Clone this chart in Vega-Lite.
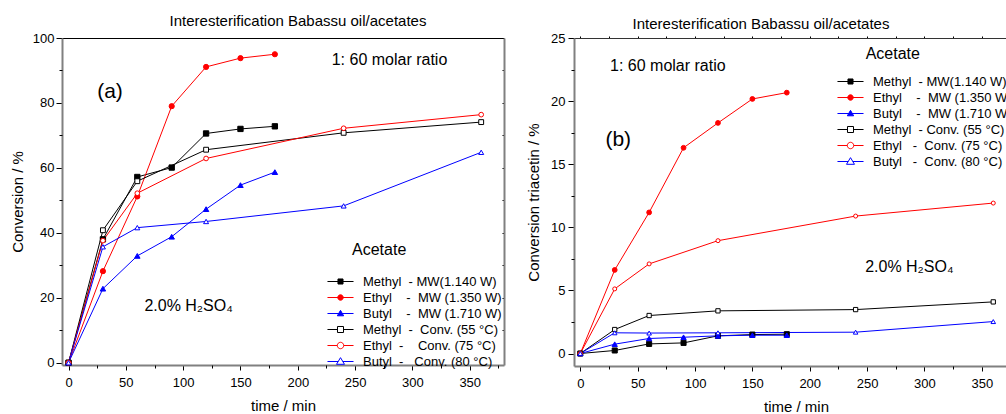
{
  "$schema": "https://vega.github.io/schema/vega-lite/v6.json",
  "autosize": {"type": "none"},
  "padding": {"left": 62, "top": 38, "right": 944, "bottom": 376},
  "background": "white",
  "config": {"view": {"stroke": null}, "font": "Liberation Sans", "text": {"font": "Liberation Sans"}},
  "datasets": {
    "pa": [
      {"t": 0, "v": 0, "s": "Methyl MW"}, {"t": 30, "v": 38, "s": "Methyl MW"}, {"t": 60, "v": 57.2, "s": "Methyl MW"}, {"t": 90, "v": 60.1, "s": "Methyl MW"}, {"t": 120, "v": 70.6, "s": "Methyl MW"}, {"t": 150, "v": 72.0, "s": "Methyl MW"}, {"t": 180, "v": 72.8, "s": "Methyl MW"},
      {"t": 0, "v": 0, "s": "Ethyl MW"}, {"t": 30, "v": 28.2, "s": "Ethyl MW"}, {"t": 60, "v": 51.2, "s": "Ethyl MW"}, {"t": 90, "v": 79.0, "s": "Ethyl MW"}, {"t": 120, "v": 91.1, "s": "Ethyl MW"}, {"t": 150, "v": 93.8, "s": "Ethyl MW"}, {"t": 180, "v": 95.0, "s": "Ethyl MW"},
      {"t": 0, "v": 0, "s": "Butyl MW"}, {"t": 30, "v": 22.8, "s": "Butyl MW"}, {"t": 60, "v": 32.9, "s": "Butyl MW"}, {"t": 90, "v": 38.8, "s": "Butyl MW"}, {"t": 120, "v": 47.3, "s": "Butyl MW"}, {"t": 150, "v": 54.7, "s": "Butyl MW"}, {"t": 180, "v": 58.7, "s": "Butyl MW"},
      {"t": 0, "v": 0, "s": "Methyl Conv"}, {"t": 30, "v": 40.8, "s": "Methyl Conv"}, {"t": 60, "v": 55.9, "s": "Methyl Conv"}, {"t": 120, "v": 65.6, "s": "Methyl Conv"}, {"t": 240, "v": 70.8, "s": "Methyl Conv"}, {"t": 360, "v": 74.1, "s": "Methyl Conv"},
      {"t": 0, "v": 0, "s": "Ethyl Conv"}, {"t": 30, "v": 37.6, "s": "Ethyl Conv"}, {"t": 60, "v": 52.2, "s": "Ethyl Conv"}, {"t": 120, "v": 62.9, "s": "Ethyl Conv"}, {"t": 240, "v": 72.2, "s": "Ethyl Conv"}, {"t": 360, "v": 76.4, "s": "Ethyl Conv"},
      {"t": 0, "v": 0, "s": "Butyl Conv"}, {"t": 30, "v": 35.7, "s": "Butyl Conv"}, {"t": 60, "v": 41.6, "s": "Butyl Conv"}, {"t": 120, "v": 43.5, "s": "Butyl Conv"}, {"t": 240, "v": 48.3, "s": "Butyl Conv"}, {"t": 360, "v": 64.8, "s": "Butyl Conv"}
    ],
    "pb": [
      {"t": 0, "v": 0, "s": "Methyl MW"}, {"t": 30, "v": 0.24, "s": "Methyl MW"}, {"t": 60, "v": 0.76, "s": "Methyl MW"}, {"t": 90, "v": 0.84, "s": "Methyl MW"}, {"t": 120, "v": 1.40, "s": "Methyl MW"}, {"t": 150, "v": 1.50, "s": "Methyl MW"}, {"t": 180, "v": 1.53, "s": "Methyl MW"},
      {"t": 0, "v": 0, "s": "Ethyl MW"}, {"t": 30, "v": 6.62, "s": "Ethyl MW"}, {"t": 60, "v": 11.18, "s": "Ethyl MW"}, {"t": 90, "v": 16.3, "s": "Ethyl MW"}, {"t": 120, "v": 18.27, "s": "Ethyl MW"}, {"t": 150, "v": 20.17, "s": "Ethyl MW"}, {"t": 180, "v": 20.67, "s": "Ethyl MW"},
      {"t": 0, "v": 0, "s": "Butyl MW"}, {"t": 30, "v": 0.74, "s": "Butyl MW"}, {"t": 60, "v": 1.19, "s": "Butyl MW"}, {"t": 90, "v": 1.29, "s": "Butyl MW"}, {"t": 120, "v": 1.40, "s": "Butyl MW"}, {"t": 150, "v": 1.45, "s": "Butyl MW"}, {"t": 180, "v": 1.45, "s": "Butyl MW"},
      {"t": 0, "v": 0, "s": "Methyl Conv"}, {"t": 30, "v": 1.90, "s": "Methyl Conv"}, {"t": 60, "v": 3.01, "s": "Methyl Conv"}, {"t": 120, "v": 3.38, "s": "Methyl Conv"}, {"t": 240, "v": 3.48, "s": "Methyl Conv"}, {"t": 360, "v": 4.09, "s": "Methyl Conv"},
      {"t": 0, "v": 0, "s": "Ethyl Conv"}, {"t": 30, "v": 5.12, "s": "Ethyl Conv"}, {"t": 60, "v": 7.10, "s": "Ethyl Conv"}, {"t": 120, "v": 8.94, "s": "Ethyl Conv"}, {"t": 240, "v": 10.89, "s": "Ethyl Conv"}, {"t": 360, "v": 11.92, "s": "Ethyl Conv"},
      {"t": 0, "v": 0, "s": "Butyl Conv"}, {"t": 30, "v": 1.64, "s": "Butyl Conv"}, {"t": 60, "v": 1.62, "s": "Butyl Conv"}, {"t": 120, "v": 1.64, "s": "Butyl Conv"}, {"t": 240, "v": 1.69, "s": "Butyl Conv"}, {"t": 360, "v": 2.53, "s": "Butyl Conv"}
    ],
    "na": [
      {"t": 36.2, "v": 83.5, "label": "(a)", "kind": "big"},
      {"t": 280, "v": 93.3, "label": "1: 60 molar ratio", "kind": "note"},
      {"t": 271, "v": 34.8, "label": "Acetate", "kind": "note"},
      {"t": 104.7, "v": 17.6, "label": "2.0% H₂SO₄", "kind": "note"}
    ],
    "nb": [
      {"t": 33.1, "v": 16.9, "label": "(b)", "kind": "big"},
      {"t": 76.3, "v": 22.8, "label": "1: 60 molar ratio", "kind": "note"},
      {"t": 272.4, "v": 23.7, "label": "Acetate", "kind": "note"},
      {"t": 286.8, "v": 6.83, "label": "2.0% H₂SO₄", "kind": "note"}
    ]
  },
  "spacing": 70,
  "bounds": "flush",
  "resolve": {"scale": {"x": "independent", "y": "independent", "stroke": "independent", "fill": "independent", "shape": "independent", "size": "independent"}, "legend": {"stroke": "independent"}},
  "hconcat": [
    {
      "width": 442,
      "height": 327,
      "title": {"text": "Interesterification Babassu oil/acetates", "fontSize": 15, "font": "Liberation Sans", "fontWeight": "normal", "color": "black", "dx": 15, "offset": 3},
      "resolve": {"axis": {"x": "independent", "y": "independent"}},
      "layer": [
        {
          "data": {"name": "pa"},
          "mark": {"type": "line", "strokeWidth": 1},
          "encoding": {
            "x": {"field": "t", "type": "quantitative", "scale": {"domain": [-5.7, 379.9], "nice": false, "zero": false},
              "axis": {"orient": "bottom", "values": [0, 50, 100, 150, 200, 250, 300, 350], "title": "time / min", "titleFontSize": 15, "titleFont": "Liberation Sans", "titleFontWeight": "normal", "titleColor": "black", "titlePadding": 9, "labelFontSize": 13, "labelFont": "Liberation Sans", "labelColor": "black", "labelPadding": 6, "labelFlush": false, "tickSize": 5, "tickColor": "black", "domainColor": "#808080", "domainWidth": 2, "grid": false}},
            "y": {"field": "v", "type": "quantitative", "scale": {"domain": [-0.7, 100], "nice": false, "zero": false},
              "axis": {"orient": "left", "values": [0, 20, 40, 60, 80, 100], "title": "Conversion / %", "titleFontSize": 15, "titleFont": "Liberation Sans", "titleFontWeight": "normal", "titleColor": "black", "titlePadding": 7, "labelFontSize": 13, "labelFont": "Liberation Sans", "labelColor": "black", "labelPadding": 2, "labelFlush": false, "tickSize": 6, "tickColor": "black", "domainColor": "#808080", "domainWidth": 2, "grid": false}},
            "stroke": {"field": "s", "type": "nominal",
              "scale": {"domain": ["Methyl MW", "Ethyl MW", "Butyl MW", "Methyl Conv", "Ethyl Conv", "Butyl Conv"], "range": ["#000000", "#ff0000", "#0000ff", "#000000", "#ff0000", "#0000ff"]},
              "legend": {"title": null, "orient": "none", "legendX": 271, "legendY": 236, "padding": 0, "symbolSize": 196, "labelFontSize": 13, "labelFont": "Liberation Sans", "labelColor": "black", "labelOffset": 15, "rowPadding": 1, "labelLimit": 300,
                "labelExpr": "datum.value == 'Methyl MW' ? 'Methyl\u00a0 - MW(1.140 W)' : datum.value == 'Ethyl MW' ? 'Ethyl\u00a0\u00a0\u00a0 -\u00a0 MW (1.350 W)' : datum.value == 'Butyl MW' ? 'Butyl\u00a0\u00a0\u00a0 -\u00a0 MW (1.710 W)' : datum.value == 'Methyl Conv' ? 'Methyl\u00a0 -\u00a0 Conv. (55 °C)' : datum.value == 'Ethyl Conv' ? 'Ethyl\u00a0 -\u00a0\u00a0\u00a0 Conv. (75 °C)' : 'Butyl\u00a0 -\u00a0\u00a0 Conv. (80 °C)'",
                "encode": {"symbols": {"update": {
                  "shape": {"signal": "datum.value == 'Methyl MW' ? 'M-1.86,0H1.86M-0.36,-0.36H0.36V0.36H-0.36Z' : datum.value == 'Ethyl MW' ? 'M-1.86,0H1.86M-0.39,0A0.39,0.39 0 1,0 0.39,0A0.39,0.39 0 1,0 -0.39,0Z' : datum.value == 'Butyl MW' ? 'M-1.86,0H1.86M0,-0.45L0.45,0.33L-0.45,0.33Z' : datum.value == 'Methyl Conv' ? 'M-1.86,0H-0.43M0.43,0H1.86M-0.43,-0.43H0.43V0.43H-0.43Z' : datum.value == 'Ethyl Conv' ? 'M-1.86,0H-0.46M0.46,0H1.86M-0.46,0A0.46,0.46 0 1,0 0.46,0A0.46,0.46 0 1,0 -0.46,0Z' : 'M-1.86,0H-0.33M0.33,0H1.86M0,-0.55L0.57,0.4L-0.57,0.4Z'"},
                  "fill": {"signal": "test(/Conv/, datum.value) ? '#ffffff' : test(/Methyl/, datum.value) ? '#000000' : test(/Ethyl/, datum.value) ? '#ff0000' : '#0000ff'"},
                  "strokeWidth": {"value": 1},
                  "opacity": {"value": 1}
                }}}}}
          }
        },
        {
          "data": {"name": "pa"},
          "mark": {"type": "point", "strokeWidth": 1, "opacity": 1},
          "encoding": {
            "x": {"field": "t", "type": "quantitative",
              "axis": {"orient": "bottom", "values": [25, 75, 125, 175, 225, 275, 325, 375], "title": null, "labels": false, "domain": false, "tickSize": 3, "tickColor": "black", "grid": false}},
            "y": {"field": "v", "type": "quantitative",
              "axis": {"orient": "left", "values": [10, 30, 50, 70, 90], "title": null, "labels": false, "domain": false, "tickSize": 3, "tickColor": "black", "grid": false}},
            "stroke": {"field": "s", "type": "nominal"},
            "fill": {"field": "s", "type": "nominal", "legend": null,
              "scale": {"domain": ["Butyl Conv", "Ethyl Conv", "Methyl Conv", "Butyl MW", "Ethyl MW", "Methyl MW"], "range": ["#ffffff", "#ffffff", "#ffffff", "#0000ff", "#ff0000", "#000000"]}},
            "shape": {"field": "s", "type": "nominal", "legend": null,
              "scale": {"domain": ["Ethyl MW", "Methyl MW", "Butyl MW", "Ethyl Conv", "Methyl Conv", "Butyl Conv"], "range": ["circle", "square", "triangle-up", "circle", "square", "triangle-up"]}},
            "size": {"field": "s", "type": "nominal", "legend": null,
              "scale": {"domain": ["Butyl MW", "Methyl MW", "Ethyl MW", "Butyl Conv", "Methyl Conv", "Ethyl Conv"], "range": [30, 22, 26, 60, 36, 50]}}
          }
        },
        {
          "data": {"name": "na"},
          "transform": [{"filter": "datum.kind == 'note'"}],
          "mark": {"type": "text", "align": "center", "baseline": "middle", "font": "Liberation Sans", "fontSize": 16, "color": "black"},
          "encoding": {
            "x": {"field": "t", "type": "quantitative",
              "axis": {"orient": "top", "title": null, "labels": false, "ticks": false, "domainColor": "black", "domainWidth": 1, "grid": false}},
            "y": {"field": "v", "type": "quantitative",
              "axis": {"orient": "right", "values": [10, 20, 30, 40, 50, 60, 70, 80, 90], "title": null, "labels": false, "tickSize": -2, "tickColor": "black", "domainColor": "#808080", "domainWidth": 2, "grid": false}},
            "text": {"field": "label", "type": "nominal"}
          }
        },
        {
          "data": {"name": "na"},
          "transform": [{"filter": "datum.kind == 'big'"}],
          "mark": {"type": "text", "align": "center", "baseline": "middle", "font": "Liberation Sans", "fontSize": 21, "color": "black"},
          "encoding": {
            "x": {"field": "t", "type": "quantitative", "axis": null},
            "y": {"field": "v", "type": "quantitative", "axis": null},
            "text": {"field": "label", "type": "nominal"}
          }
        }
      ]
    },
    {
      "width": 432,
      "height": 328,
      "title": {"text": "Interesterification Babassu oil/acetates", "fontSize": 15, "font": "Liberation Sans", "fontWeight": "normal", "color": "black", "dx": -29, "offset": 0},
      "resolve": {"axis": {"x": "independent", "y": "independent"}},
      "layer": [
        {
          "data": {"name": "pb"},
          "mark": {"type": "line", "strokeWidth": 1},
          "encoding": {
            "x": {"field": "t", "type": "quantitative", "scale": {"domain": [-5.5, 371.1], "nice": false, "zero": false},
              "axis": {"orient": "bottom", "values": [0, 50, 100, 150, 200, 250, 300, 350], "title": "time / min", "titleX": 222, "titleFontSize": 15, "titleFont": "Liberation Sans", "titleFontWeight": "normal", "titleColor": "black", "titlePadding": 9, "labelFontSize": 13, "labelFont": "Liberation Sans", "labelColor": "black", "labelPadding": 6, "labelFlush": false, "tickSize": 5, "tickColor": "black", "domainColor": "#808080", "domainWidth": 2, "grid": false}},
            "y": {"field": "v", "type": "quantitative", "scale": {"domain": [-0.99, 25], "nice": false, "zero": false},
              "axis": {"orient": "left", "values": [0, 5, 10, 15, 20, 25], "title": "Conversion triacetin / %", "titleFontSize": 15, "titleFont": "Liberation Sans", "titleFontWeight": "normal", "titleColor": "black", "titlePadding": 9, "labelFontSize": 13, "labelFont": "Liberation Sans", "labelColor": "black", "labelPadding": 3, "labelFlush": false, "tickSize": 6, "tickColor": "black", "domainColor": "#808080", "domainWidth": 2, "grid": false}},
            "stroke": {"field": "s", "type": "nominal",
              "scale": {"domain": ["Methyl MW", "Ethyl MW", "Butyl MW", "Methyl Conv", "Ethyl Conv", "Butyl Conv"], "range": ["#000000", "#ff0000", "#0000ff", "#000000", "#ff0000", "#0000ff"]},
              "legend": {"title": null, "orient": "none", "legendX": 269, "legendY": 36, "padding": 0, "symbolSize": 196, "labelFontSize": 13, "labelFont": "Liberation Sans", "labelColor": "black", "labelOffset": 15, "rowPadding": 1, "labelLimit": 300,
                "labelExpr": "datum.value == 'Methyl MW' ? 'Methyl\u00a0 - MW(1.140 W)' : datum.value == 'Ethyl MW' ? 'Ethyl\u00a0\u00a0\u00a0 -\u00a0 MW (1.350 W)' : datum.value == 'Butyl MW' ? 'Butyl\u00a0\u00a0\u00a0 -\u00a0 MW (1.710 W)' : datum.value == 'Methyl Conv' ? 'Methyl\u00a0 - Conv. (55 °C)' : datum.value == 'Ethyl Conv' ? 'Ethyl\u00a0\u00a0 -\u00a0 Conv. (75 °C)' : 'Butyl\u00a0\u00a0 -\u00a0 Conv. (80 °C)'",
                "encode": {"symbols": {"update": {
                  "shape": {"signal": "datum.value == 'Methyl MW' ? 'M-1.86,0H1.86M-0.36,-0.36H0.36V0.36H-0.36Z' : datum.value == 'Ethyl MW' ? 'M-1.86,0H1.86M-0.39,0A0.39,0.39 0 1,0 0.39,0A0.39,0.39 0 1,0 -0.39,0Z' : datum.value == 'Butyl MW' ? 'M-1.86,0H1.86M0,-0.45L0.45,0.33L-0.45,0.33Z' : datum.value == 'Methyl Conv' ? 'M-1.86,0H-0.43M0.43,0H1.86M-0.43,-0.43H0.43V0.43H-0.43Z' : datum.value == 'Ethyl Conv' ? 'M-1.86,0H-0.46M0.46,0H1.86M-0.46,0A0.46,0.46 0 1,0 0.46,0A0.46,0.46 0 1,0 -0.46,0Z' : 'M-1.86,0H-0.33M0.33,0H1.86M0,-0.55L0.57,0.4L-0.57,0.4Z'"},
                  "fill": {"signal": "test(/Conv/, datum.value) ? '#ffffff' : test(/Methyl/, datum.value) ? '#000000' : test(/Ethyl/, datum.value) ? '#ff0000' : '#0000ff'"},
                  "strokeWidth": {"value": 1},
                  "opacity": {"value": 1}
                }}}}}
          }
        },
        {
          "data": {"name": "pb"},
          "mark": {"type": "point", "strokeWidth": 1, "opacity": 1},
          "encoding": {
            "x": {"field": "t", "type": "quantitative",
              "axis": {"orient": "bottom", "values": [25, 75, 125, 175, 225, 275, 325], "title": null, "labels": false, "domain": false, "tickSize": 3, "tickColor": "black", "grid": false}},
            "y": {"field": "v", "type": "quantitative",
              "axis": {"orient": "left", "values": [2.5, 7.5, 12.5, 17.5, 22.5], "title": null, "labels": false, "domain": false, "tickSize": 3, "tickColor": "black", "grid": false}},
            "stroke": {"field": "s", "type": "nominal"},
            "fill": {"field": "s", "type": "nominal", "legend": null,
              "scale": {"domain": ["Butyl Conv", "Ethyl Conv", "Methyl Conv", "Butyl MW", "Ethyl MW", "Methyl MW"], "range": ["#ffffff", "#ffffff", "#ffffff", "#0000ff", "#ff0000", "#000000"]}},
            "shape": {"field": "s", "type": "nominal", "legend": null,
              "scale": {"domain": ["Ethyl MW", "Methyl MW", "Butyl MW", "Ethyl Conv", "Methyl Conv", "Butyl Conv"], "range": ["circle", "square", "triangle-up", "circle", "square", "triangle-up"]}},
            "size": {"field": "s", "type": "nominal", "legend": null,
              "scale": {"domain": ["Butyl MW", "Methyl MW", "Ethyl MW", "Butyl Conv", "Methyl Conv", "Ethyl Conv"], "range": [28, 16, 22, 60, 40, 50]}}
          }
        },
        {
          "data": {"name": "nb"},
          "transform": [{"filter": "datum.kind == 'note'"}],
          "mark": {"type": "text", "align": "center", "baseline": "middle", "font": "Liberation Sans", "fontSize": 16, "color": "black"},
          "encoding": {
            "x": {"field": "t", "type": "quantitative",
              "axis": {"orient": "top", "values": [0, 25, 50, 75, 100, 125, 150, 175, 200, 225, 250, 275, 300, 325, 350], "title": null, "labels": false, "tickSize": 2, "tickColor": "black", "domainColor": "#333333", "domainWidth": 1, "grid": false}},
            "y": {"field": "v", "type": "quantitative", "axis": null},
            "text": {"field": "label", "type": "nominal"}
          }
        },
        {
          "data": {"name": "nb"},
          "transform": [{"filter": "datum.kind == 'big'"}],
          "mark": {"type": "text", "align": "center", "baseline": "middle", "font": "Liberation Sans", "fontSize": 21, "color": "black"},
          "encoding": {
            "x": {"field": "t", "type": "quantitative", "axis": null},
            "y": {"field": "v", "type": "quantitative", "axis": null},
            "text": {"field": "label", "type": "nominal"}
          }
        }
      ]
    }
  ]
}
